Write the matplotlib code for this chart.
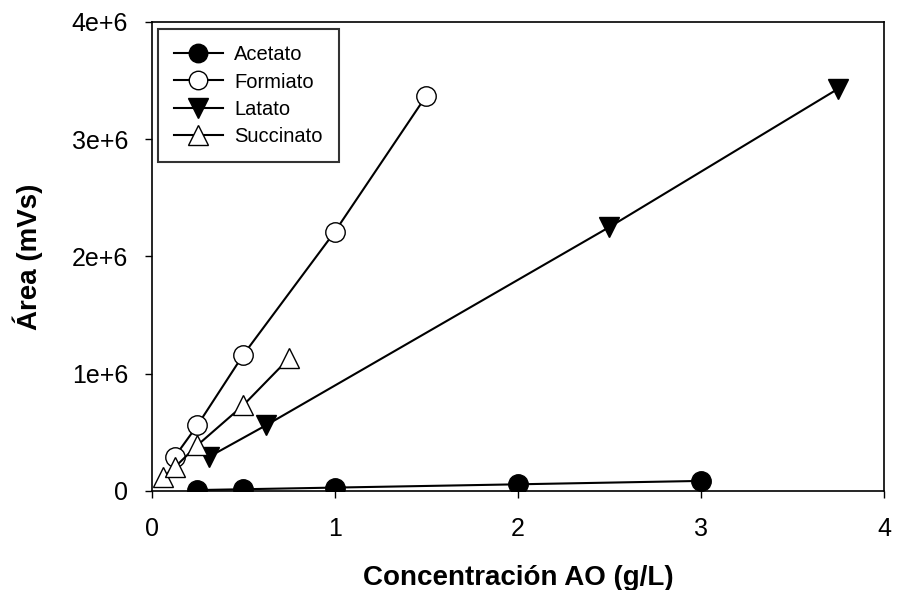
import matplotlib
matplotlib.use("Agg")
import matplotlib.pyplot as plt

plt.rcParams['font.family'] = ['Liberation Sans', 'DejaVu Sans']

# calibration curves: concentration (g/L) vs peak area (mVs)
acetato_x = [0.25, 0.5, 1, 2, 3]
acetato_y = [7e3, 14e3, 28e3, 56e3, 85e3]

formiato_x = [0.125, 0.25, 0.5, 1, 1.5]
formiato_y = [0.29e6, 0.56e6, 1.16e6, 2.21e6, 3.37e6]

latato_x = [0.3125, 0.625, 2.5, 3.75]
latato_y = [0.29e6, 0.56e6, 2.25e6, 3.43e6]

succinato_x = [0.0625, 0.125, 0.25, 0.5, 0.75]
succinato_y = [0.12e6, 0.2e6, 0.39e6, 0.73e6, 1.13e6]

yticks = [0, 1e6, 2e6, 3e6, 4e6]
ytick_labels = ['0', '1e+6', '2e+6', '3e+6', '4e+6']

fig = plt.figure(figsize=(9.03, 5.9), dpi=100)
ax = fig.add_axes([0.168, 0.168, 0.811, 0.795])

ax.plot(acetato_x, acetato_y, '-o', color='black', mfc='black', mec='black',
        ms=14, lw=1.5, label='Acetato')
ax.plot(formiato_x, formiato_y, '-o', color='black', mfc='white', mec='black',
        ms=14, lw=1.5, label='Formiato')
ax.plot(latato_x, latato_y, '-v', color='black', mfc='black', mec='black',
        ms=15, lw=1.5, label='Latato')
ax.plot(succinato_x, succinato_y, '-^', color='black', mfc='white', mec='black',
        ms=15, lw=1.5, label='Succinato')

ax.set_xlim(0, 4)
ax.set_ylim(0, 4e6)
ax.set_xticks([0, 1, 2, 3, 4])
ax.set_yticks(yticks)
ax.set_yticklabels(ytick_labels)
ax.tick_params(labelsize=18, length=5, width=1, direction='out')
ax.tick_params(axis='y', pad=12)
ax.tick_params(axis='x', pad=14)

for s in ax.spines.values():
    s.set_linewidth(1.2)

ax.set_xlabel('Concentración AO (g/L)', fontsize=20, fontweight='bold', labelpad=17)
ax.set_ylabel('Área (mVs)', fontsize=20, fontweight='bold', labelpad=21)

leg = ax.legend(loc='upper left', fontsize=14.5, frameon=True, fancybox=False,
                edgecolor='black', handlelength=2.45, handletextpad=0.55,
                markerscale=0.95, borderpad=0.8, labelspacing=0.4,
                borderaxespad=0, bbox_to_anchor=(0.008, 0.984))
leg.get_frame().set_linewidth(1.5)

fig.savefig('out.png', dpi=100)
